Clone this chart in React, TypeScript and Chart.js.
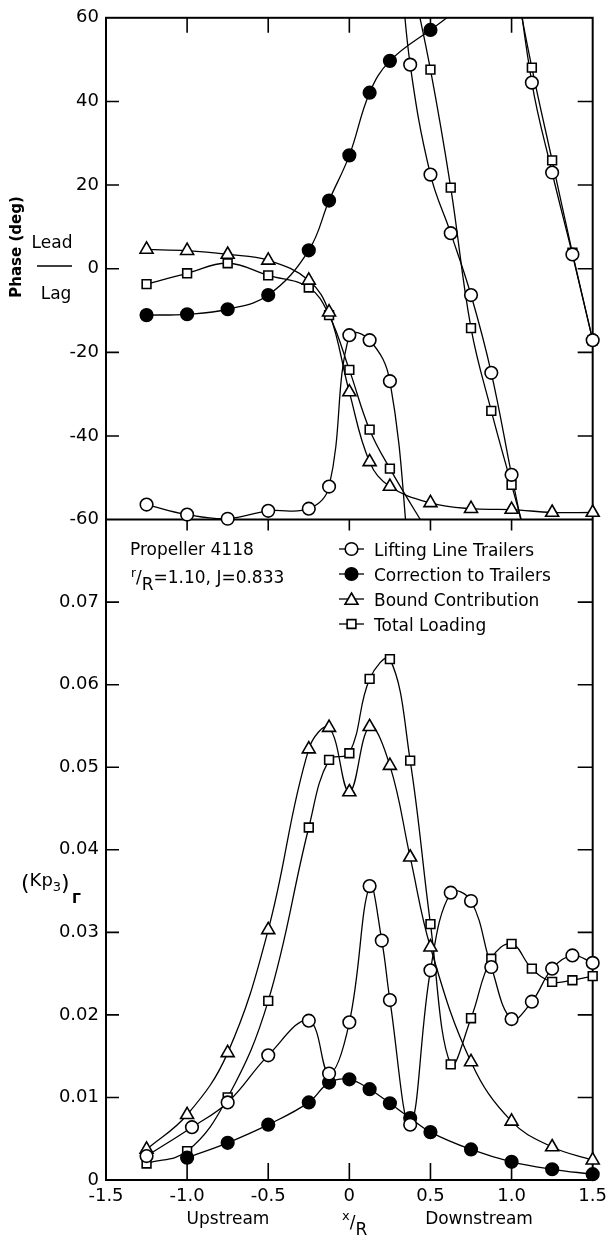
import React, { useEffect, useRef } from "react";
import { Chart, registerables } from "chart.js";

Chart.register(...registerables);

const FONT = '"DejaVu Sans", sans-serif';

// ---------------- Phase panel (deg) ----------------
// null = break where the curve leaves the frame and re-enters (phase wrap)
const phaseLiftX = [-1.25, -1.0, -0.75, -0.5, -0.25, -0.125, 0, 0.125, 0.25, 0.375, 0.375, 0.3125, 0.375, 0.5, 0.625, 0.75, 0.875, 1.0, 1.125, 1.125, 1.0, 1.125, 1.25, 1.375, 1.5];
const phaseLiftY = [-56.4, -58.8, -59.8, -57.9, -57.4, -52.1, -15.9, -17.1, -26.9, -72, null, 74, 48.8, 22.5, 8.5, -6.3, -24.9, -49.3, -73, null, 80, 44.5, 23.0, 3.4, -17.1];

const phaseCorrX = [-1.25, -1.0, -0.75, -0.5, -0.25, -0.125, 0, 0.125, 0.25, 0.5, 0.75, 1.0];
const phaseCorrY = [-11.1, -10.9, -9.7, -6.3, 4.4, 16.3, 27.1, 42.1, 49.7, 57.1, 63.5, 66];

const phaseBoundX = [-1.25, -1.0, -0.75, -0.5, -0.25, -0.125, 0, 0.125, 0.25, 0.5, 0.75, 1.0, 1.25, 1.5];
const phaseBoundY = [4.6, 4.3, 3.4, 2.0, -2.8, -10.4, -29.5, -46.2, -52.1, -56, -57.4, -57.6, -58.3, -58.3];

const phaseTotalX = [-1.25, -1.0, -0.75, -0.5, -0.25, -0.125, 0, 0.125, 0.25, 0.5, 0.5, 0.375, 0.5, 0.625, 0.75, 0.875, 1.0, 1.125, 1.125, 1.0, 1.125, 1.25, 1.375, 1.5];
const phaseTotalY = [-3.7, -1.1, 1.3, -1.6, -4.5, -11.1, -24.2, -38.5, -47.8, -64, null, 71, 47.6, 19.4, -14.2, -34, -51.7, -69, null, 73, 48.1, 25.9, 3.8, -17.1];

// ---------------- (Kp3)Γ panel ----------------
const kpLiftX = [-1.25, -0.97, -0.75, -0.5, -0.25, -0.125, 0, 0.125, 0.2, 0.25, 0.375, 0.5, 0.625, 0.75, 0.875, 1.0, 1.125, 1.25, 1.375, 1.5];
const kpLiftY = [0.0029, 0.0064, 0.0094, 0.0151, 0.0193, 0.0129, 0.0191, 0.0356, 0.029, 0.0218, 0.0067, 0.0254, 0.0348, 0.0338, 0.0258, 0.0195, 0.0216, 0.0256, 0.0272, 0.0263];

const kpCorrX = [-1.0, -0.75, -0.5, -0.25, -0.125, 0, 0.125, 0.25, 0.375, 0.5, 0.75, 1.0, 1.25, 1.5];
const kpCorrY = [0.0027, 0.0045, 0.0067, 0.0094, 0.0118, 0.0122, 0.011, 0.0093, 0.0075, 0.0058, 0.0037, 0.0022, 0.0013, 0.0007];

const kpBoundX = [-1.25, -1.0, -0.75, -0.5, -0.25, -0.125, 0, 0.125, 0.25, 0.375, 0.5, 0.75, 1.0, 1.25, 1.5];
const kpBoundY = [0.0037, 0.0079, 0.0154, 0.0303, 0.0522, 0.0548, 0.047, 0.0549, 0.0502, 0.0391, 0.0282, 0.0143, 0.0071, 0.004, 0.0024];

const kpTotalX = [-1.25, -1.0, -0.75, -0.5, -0.25, -0.125, 0, 0.125, 0.25, 0.375, 0.5, 0.625, 0.75, 0.875, 1.0, 1.125, 1.25, 1.375, 1.5];
const kpTotalY = [0.002, 0.0035, 0.01, 0.0217, 0.0427, 0.0509, 0.0517, 0.0607, 0.0631, 0.0508, 0.031, 0.014, 0.0196, 0.0268, 0.0286, 0.0256, 0.024, 0.0242, 0.0247];

// ---------------- labels ----------------
const seriesNames = ["Lifting Line Trailers", "Correction to Trailers", "Bound Contribution", "Total Loading"];
const phaseRange = [-60, 60];
const kpRange = [0, 0.08];
const xRange = [-1.5, 1.5];

type Marker = { style: string; r: number; bg: string };
const markers: Marker[] = [
  { style: "circle", r: 6.3, bg: "#ffffff" },
  { style: "circle", r: 6.3, bg: "#000000" },
  { style: "triangle", r: 7.5, bg: "#ffffff" },
  { style: "rect", r: 6.2, bg: "#ffffff" },
];

const pts = (xs: number[], ys: (number | null)[]) => xs.map((x, i) => ({ x, y: ys[i] }));

function lineDs(xs: number[], ys: (number | null)[], yAxisID: string) {
  return {
    type: "line",
    data: pts(xs, ys),
    yAxisID,
    xAxisID: "x",
    borderColor: "#000",
    borderWidth: 1.3,
    pointRadius: 0,
    tension: 0.4,
    spanGaps: false,
    fill: false,
    order: 2,
  };
}

function pointDs(xs: number[], ys: (number | null)[], yAxisID: string, m: Marker, lo: number, hi: number) {
  return {
    type: "line",
    data: pts(xs, ys),
    yAxisID,
    xAxisID: "x",
    showLine: false,
    clip: false,
    pointStyle: m.style,
    pointRadius: (c: any) => {
      const r = c.raw;
      if (!r || r.y == null) return 0;
      return r.y >= lo - 1e-9 && r.y <= hi + 1e-9 ? m.r : 0;
    },
    pointBackgroundColor: m.bg,
    pointBorderColor: "#000",
    pointBorderWidth: 1.6,
    order: 1,
  };
}

function drawMarker(ctx: CanvasRenderingContext2D, m: Marker, x: number, y: number) {
  ctx.save();
  ctx.beginPath();
  if (m.style === "circle") {
    ctx.arc(x, y, m.r, 0, Math.PI * 2);
  } else if (m.style === "triangle") {
    const r = m.r;
    ctx.moveTo(x, y - r);
    ctx.lineTo(x + r * Math.sin((2 * Math.PI) / 3), y - r * Math.cos((2 * Math.PI) / 3));
    ctx.lineTo(x + r * Math.sin((4 * Math.PI) / 3), y - r * Math.cos((4 * Math.PI) / 3));
    ctx.closePath();
  } else {
    const s = m.r * Math.SQRT1_2;
    ctx.rect(x - s, y - s, 2 * s, 2 * s);
  }
  ctx.fillStyle = m.bg;
  ctx.fill();
  ctx.lineWidth = 1.6;
  ctx.strokeStyle = "#000";
  ctx.stroke();
  ctx.restore();
}

type Run = [string, number, number];
function drawRuns(ctx: CanvasRenderingContext2D, x: number, y: number, runs: Run[]) {
  let cx = x;
  for (const [t, size, dy] of runs) {
    ctx.font = `${size}px ${FONT}`;
    ctx.fillText(t, cx, y + dy);
    cx += ctx.measureText(t).width;
  }
}

const panelPlugin = {
  id: "panelPlugin",
  beforeDatasetDraw(chart: any, args: any) {
    const ds = chart.data.datasets[args.index];
    if (ds.showLine === false) return;
    const ys = args.meta.yScale;
    const { left, right } = chart.chartArea;
    const ctx = chart.ctx;
    ctx.save();
    ctx.beginPath();
    ctx.rect(left, ys.top, right - left, ys.bottom - ys.top);
    ctx.clip();
  },
  afterDatasetDraw(chart: any, args: any) {
    const ds = chart.data.datasets[args.index];
    if (ds.showLine === false) return;
    chart.ctx.restore();
  },
  beforeDatasetsDraw(chart: any) {
    const ctx: CanvasRenderingContext2D = chart.ctx;
    const { left, right, top, bottom } = chart.chartArea;
    const yP = chart.scales.yPhase;
    const yK = chart.scales.yKp;
    const xs = chart.scales.x;
    const mid = yP.bottom;
    ctx.save();
    ctx.strokeStyle = "#000";
    ctx.lineWidth = 2;
    ctx.lineCap = "butt";
    ctx.strokeRect(left, top, right - left, bottom - top);
    ctx.beginPath();
    ctx.moveTo(left, mid);
    ctx.lineTo(right, mid);
    ctx.stroke();
    ctx.lineWidth = 1.6;
    ctx.beginPath();
    for (const t of yP.ticks) {
      if (t.value <= phaseRange[0] || t.value >= phaseRange[1]) continue;
      const y = yP.getPixelForValue(t.value);
      ctx.moveTo(left, y);
      ctx.lineTo(left + 13, y);
      ctx.moveTo(right - 15, y);
      ctx.lineTo(right, y);
    }
    for (const t of yK.ticks) {
      if (t.value <= kpRange[0] + 1e-9 || t.value >= kpRange[1] - 1e-9) continue;
      const y = yK.getPixelForValue(t.value);
      ctx.moveTo(left, y);
      ctx.lineTo(left + 13, y);
      ctx.moveTo(right - 15, y);
      ctx.lineTo(right, y);
    }
    for (const t of xs.ticks) {
      if (t.value <= xRange[0] || t.value >= xRange[1]) continue;
      const x = xs.getPixelForValue(t.value);
      ctx.moveTo(x, top);
      ctx.lineTo(x, top + 15);
      ctx.moveTo(x, mid);
      ctx.lineTo(x, mid + 11);
      ctx.moveTo(x, bottom - 17);
      ctx.lineTo(x, bottom);
    }
    ctx.stroke();
    ctx.restore();
  },
  afterDraw(chart: any) {
    const ctx: CanvasRenderingContext2D = chart.ctx;
    ctx.save();
    ctx.fillStyle = "#000";
    ctx.strokeStyle = "#000";
    ctx.textAlign = "left";
    ctx.textBaseline = "alphabetic";

    // Phase axis title
    ctx.save();
    ctx.translate(17, 247);
    ctx.rotate(-Math.PI / 2);
    ctx.font = `bold 15px ${FONT}`;
    ctx.textAlign = "center";
    ctx.textBaseline = "middle";
    ctx.fillText("Phase (deg)", 0, 0);
    ctx.restore();

    ctx.font = `17px ${FONT}`;
    ctx.textAlign = "center";
    ctx.fillText("Lead", 52, 248);
    ctx.fillText("Lag", 56, 299);
    ctx.lineWidth = 1.6;
    ctx.beginPath();
    ctx.moveTo(37, 266);
    ctx.lineTo(72, 266);
    ctx.stroke();
    ctx.textAlign = "left";

    // Kp axis title
    drawRuns(ctx, 21, 890, [
      ["(", 22, 0],
      ["K", 18, -4],
      ["p", 18, -4],
      ["3", 13, 1],
      [")", 22, 0],
    ]);
    ctx.font = `bold 14px ${FONT}`;
    ctx.fillText("Γ", 72, 903);

    // Propeller info
    ctx.font = `17px ${FONT}`;
    ctx.fillText("Propeller 4118", 130, 555);
    drawRuns(ctx, 131, 583, [
      ["r", 12, -6],
      ["/", 17, 0],
      ["R", 17, 7],
      ["=1.10, J=0.833", 17, 0],
    ]);

    // legend
    const rows = [549, 574, 599, 624];
    rows.forEach((cy, i) => {
      ctx.lineWidth = 1.3;
      ctx.beginPath();
      ctx.moveTo(339, cy);
      ctx.lineTo(364, cy);
      ctx.stroke();
      drawMarker(ctx, markers[i], 351.5, cy + (markers[i].style === "triangle" ? 1.5 : 0));
      ctx.fillStyle = "#000";
      ctx.font = `17px ${FONT}`;
      ctx.fillText(seriesNames[i], 374, cy + 6.5);
    });

    // x axis title
    ctx.font = `17px ${FONT}`;
    ctx.textAlign = "center";
    ctx.fillText("Upstream", 228, 1224);
    ctx.fillText("Downstream", 479, 1224);
    ctx.textAlign = "left";
    drawRuns(ctx, 342, 1220, [
      ["x", 13, 0],
      ["/", 17, 8],
      ["R", 17, 15],
    ]);
    ctx.restore();
  },
};

export default function App() {
  const ref = useRef<HTMLCanvasElement>(null);
  useEffect(() => {
    const canvas = ref.current;
    if (!canvas) return;
    const datasets: any[] = [
      lineDs(phaseLiftX, phaseLiftY, "yPhase"),
      lineDs(phaseCorrX, phaseCorrY, "yPhase"),
      lineDs(phaseBoundX, phaseBoundY, "yPhase"),
      lineDs(phaseTotalX, phaseTotalY, "yPhase"),
      lineDs(kpLiftX, kpLiftY, "yKp"),
      lineDs(kpCorrX, kpCorrY, "yKp"),
      lineDs(kpBoundX, kpBoundY, "yKp"),
      lineDs(kpTotalX, kpTotalY, "yKp"),
      pointDs(phaseLiftX, phaseLiftY, "yPhase", markers[0], phaseRange[0], phaseRange[1]),
      pointDs(phaseCorrX, phaseCorrY, "yPhase", markers[1], phaseRange[0], phaseRange[1]),
      pointDs(phaseBoundX, phaseBoundY, "yPhase", markers[2], phaseRange[0], phaseRange[1]),
      pointDs(phaseTotalX, phaseTotalY, "yPhase", markers[3], phaseRange[0], phaseRange[1]),
      pointDs(kpLiftX, kpLiftY, "yKp", markers[0], kpRange[0], kpRange[1]),
      pointDs(kpCorrX, kpCorrY, "yKp", markers[1], kpRange[0], kpRange[1]),
      pointDs(kpBoundX, kpBoundY, "yKp", markers[2], kpRange[0], kpRange[1]),
      pointDs(kpTotalX, kpTotalY, "yKp", markers[3], kpRange[0], kpRange[1]),
    ];
    const tickFont = { family: FONT, size: 18 };
    const noGrid = { display: false, drawTicks: false };
    const chart = new Chart(canvas, {
      type: "line",
      data: { datasets },
      plugins: [panelPlugin as any],
      options: {
        responsive: false,
        devicePixelRatio: 1,
        animation: false,
        events: [],
        layout: { padding: { left: 0, right: 18, top: 15, bottom: 21 } },
        plugins: { legend: { display: false }, tooltip: { enabled: false } },
        scales: {
          yKp: {
            type: "linear",
            position: "left",
            stack: "panels",
            stackWeight: 662,
            min: kpRange[0],
            max: kpRange[1],
            grid: noGrid,
            border: { display: false },
            ticks: {
              stepSize: 0.01,
              autoSkip: false,
              padding: 7,
              color: "#000",
              font: tickFont,
              callback: (v: any) => {
                const n = Math.round(Number(v) * 100) / 100;
                if (n >= 0.08) return "";
                return n === 0 ? "0" : n.toFixed(2);
              },
            },
            afterFit: (s: any) => {
              s.width = 106;
            },
          },
          yPhase: {
            type: "linear",
            position: "left",
            stack: "panels",
            stackWeight: 503,
            min: phaseRange[0],
            max: phaseRange[1],
            grid: noGrid,
            border: { display: false },
            ticks: {
              stepSize: 20,
              autoSkip: false,
              padding: 7,
              color: "#000",
              font: tickFont,
              callback: (v: any) => String(v),
            },
            afterFit: (s: any) => {
              s.width = 106;
            },
          },
          x: {
            type: "linear",
            position: "bottom",
            min: xRange[0],
            max: xRange[1],
            grid: noGrid,
            border: { display: false },
            ticks: {
              stepSize: 0.5,
              autoSkip: false,
              maxRotation: 0,
              padding: 6,
              color: "#000",
              font: tickFont,
              callback: (v: any) => {
                const n = Math.round(Number(v) * 10) / 10;
                return n === 0 ? "0" : n.toFixed(1);
              },
            },
            afterFit: (s: any) => {
              s.height = 40;
            },
          },
        },
      } as any,
    });
    return () => chart.destroy();
  }, []);
  return (
    <div style={{ position: "fixed", left: 0, top: 0, width: 613, height: 1241, background: "#fff" }}>
      <canvas ref={ref} width={613} height={1241} style={{ width: 613, height: 1241, display: "block" }} />
    </div>
  );
}
